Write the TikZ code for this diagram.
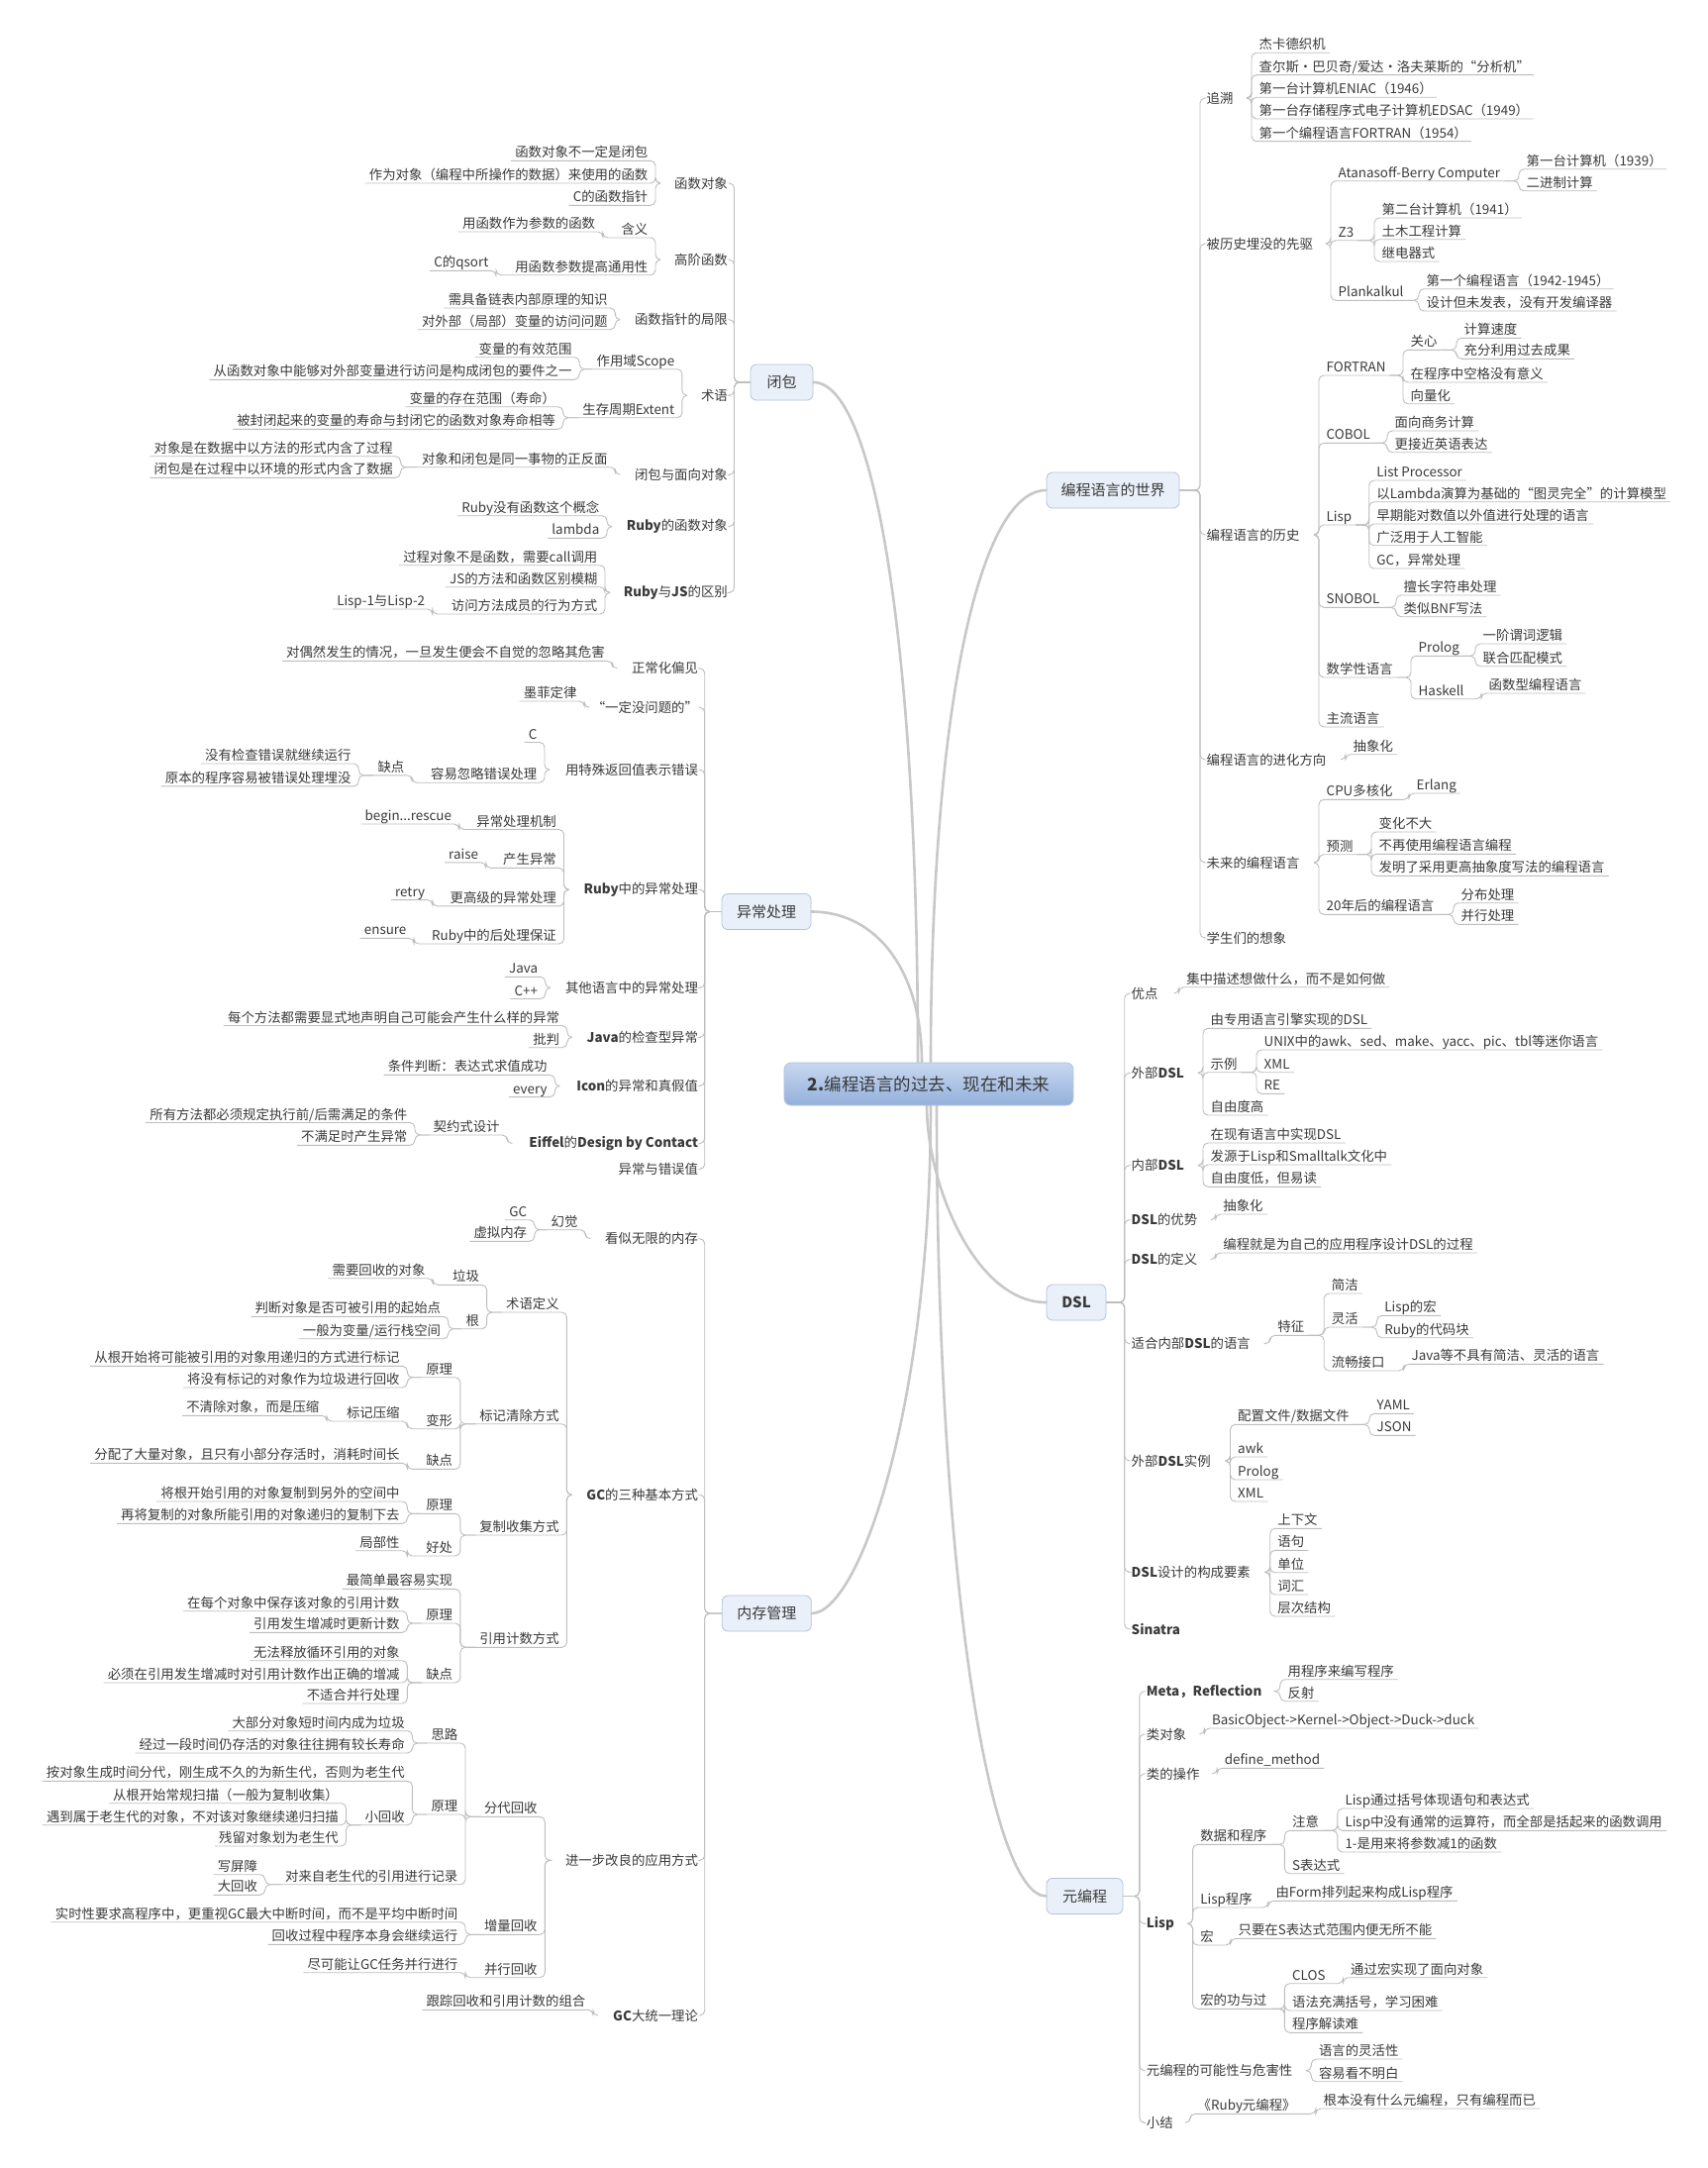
\documentclass[tikz,border=0pt]{standalone}
\usepackage{fontspec}
\setmainfont{Noto Sans CJK SC}
\usepackage{tikz}
\usetikzlibrary{calc}
\definecolor{ink}    {HTML}{3A3A3A}
\definecolor{lineg}  {HTML}{BEBEBE}
\definecolor{trunkg} {HTML}{C8C8C8}
\definecolor{boxfill}{HTML}{EAF0F9}
\definecolor{boxline}{HTML}{B4C3DA}
\definecolor{hubtop} {HTML}{C8D7EF}
\definecolor{hubbot} {HTML}{93B0DB}
\newcommand{\mapfont}{\fontsize{13.4}{15}\selectfont}
\tikzset{
  br/.style      ={draw=lineg, line width=0.9pt, rounded corners=5pt},
  trunk/.style   ={draw=trunkg, line width=2.6pt, line cap=round},
  rkid/.style    ={anchor=base west, xshift=7.5pt, yshift=3.5pt, inner sep=0pt,
                   font=\mapfont, text=ink},
  lkid/.style    ={anchor=base east, xshift=-7.5pt, yshift=3.5pt, inner sep=0pt,
                   font=\mapfont, text=ink},
  rtop/.style    ={anchor=west, inner sep=0pt, font=\mapfont, text=ink},
  ltop/.style    ={anchor=east, inner sep=0pt, font=\mapfont, text=ink},
  mainbox/.style ={draw=boxline, fill=boxfill, line width=0.8pt, rounded corners=6pt,
                   minimum height=36pt, inner sep=0pt, text=ink,
                   font=\fontsize{15}{17}\selectfont},
  hub/.style     ={draw=boxline, top color=hubtop, bottom color=hubbot, line width=0.8pt,
                   rounded corners=7pt, minimum width=292pt, minimum height=43pt,
                   text=ink, font=\fontsize{17.5}{20}\selectfont},
}
% child with underline, bracket x and underline y
\newcommand{\rkid}[4]{%
  \node[rkid] (#1) at (#2,#3) {#4};
  \coordinate (#1-s) at (#2,#3);
  \coordinate (#1-e) at ([shift={(4,3.5)}]#1.base east);}
\newcommand{\lkid}[4]{%
  \node[lkid] (#1) at (#2,#3) {#4};
  \coordinate (#1-s) at (#2,#3);
  \coordinate (#1-e) at ([shift={(-4,3.5)}]#1.base west);}
\newcommand{\kidlinks}[2]{%
  \foreach \c in {#2}{\draw[br] (#1-e) -- (\c-s |- #1-e) -- (\c-s) -- (\c-e);}}

\begin{document}
\begin{tikzpicture}[x=1pt,y=-1pt]
  \useasboundingbox (0,0) rectangle (1724,2189);
  \fill[white] (0,0) rectangle (1724,2189);

  % main boxes
  \node[mainbox, minimum width=63pt]  (clo)   at (789.5,386)   {闭包};
  \node[mainbox, minimum width=90pt]  (exc)   at (774,920.5)   {异常处理};
  \node[mainbox, minimum width=90pt]  (mem)   at (774.3,1629)  {内存管理};
  \node[mainbox, minimum width=134pt] (world) at (1124,495)    {编程语言的世界};
  \node[mainbox, minimum width=60pt]  (dsl)   at (1087,1315)   {\textbf{DSL}};
  \node[mainbox, minimum width=77pt]  (meta)  at (1095.5,1914.5) {元编程};

  \draw[trunk] (927,1073) .. controls (927,661) and (885,386) .. (clo.east);
  \draw[trunk] (931,1073) .. controls (931,981) and (886,920.5) .. (exc.east);
  \draw[trunk] (940,1073) .. controls (940,726) and (987,495) .. (world.west);
  \draw[trunk] (936,1116) .. controls (936,1196) and (985,1315) .. (dsl.west);
  \draw[trunk] (940,1116) .. controls (940,1424) and (867,1629) .. (mem.east);
  \draw[trunk] (946,1116) .. controls (946,1595) and (1000,1914.5) .. (meta.west);
  \node[hub] (hub) at (938,1094.5) {\textbf{2.}编程语言的过去、现在和未来};

  % ---------------- 编程语言的世界
  \foreach \n/\y/\t in {zs/99/追溯, xq/246/被历史埋没的先驱, ls/540/编程语言的历史,
      jh/767/编程语言的进化方向, wl/871/未来的编程语言, xx/947/学生们的想象}{
    \node[rtop] (\n) at (1218.5,\y) {\t};
    \draw[br] (world.east) -| (1212,\y) -- ++(4,0);
  }
  \coordinate (zs-e) at (1259,99);
  \rkid{zs1}{1264}{53.3}{杰卡德织机}
  \rkid{zs2}{1264}{75.7}{查尔斯·巴贝奇/爱达·洛夫莱斯的“分析机”}
  \rkid{zs3}{1264}{98.3}{第一台计算机ENIAC（1946）}
  \rkid{zs4}{1264}{120}{第一台存储程序式电子计算机EDSAC（1949）}
  \rkid{zs5}{1264}{142.7}{第一个编程语言FORTRAN（1954）}
  \kidlinks{zs}{zs1,zs2,zs3,zs4,zs5}

  \coordinate (xq-e) at (1339,246);
  \rkid{abc}{1344}{182.7}{Atanasoff-Berry Computer}
  \rkid{zthree}{1344}{242.7}{Z3}
  \rkid{plk}{1344}{303.3}{Plankalkul}
  \kidlinks{xq}{abc,zthree,plk}
  \rkid{abc1}{1534}{170.7}{第一台计算机（1939）}
  \rkid{abc2}{1534}{192.7}{二进制计算}
  \kidlinks{abc}{abc1,abc2}
  \rkid{z31}{1388}{220}{第二台计算机（1941）}
  \rkid{z32}{1388}{241.7}{土木工程计算}
  \rkid{z33}{1388}{264}{继电器式}
  \kidlinks{zthree}{z31,z32,z33}
  \rkid{plk1}{1433}{291.7}{第一个编程语言（1942-1945）}
  \rkid{plk2}{1433}{314}{设计但未发表，没有开发编译器}
  \kidlinks{plk}{plk1,plk2}

  \coordinate (ls-e) at (1327,540);
  \rkid{fortran}{1332}{379}{FORTRAN}
  \rkid{cobol}{1332}{447.3}{COBOL}
  \rkid{lisp}{1332}{530}{Lisp}
  \rkid{snobol}{1332}{613.3}{SNOBOL}
  \rkid{sxx}{1332}{684}{数学性语言}
  \rkid{zlyy}{1332}{734}{主流语言}
  \kidlinks{ls}{fortran,cobol,lisp,snobol,sxx,zlyy}
  \rkid{gx}{1417}{353.3}{关心}
  \rkid{kg}{1417}{386}{在程序中空格没有意义}
  \rkid{xlh}{1417}{407.7}{向量化}
  \kidlinks{fortran}{gx,kg,xlh}
  \rkid{gx1}{1471}{341.3}{计算速度}
  \rkid{gx2}{1471}{362.3}{充分利用过去成果}
  \kidlinks{gx}{gx1,gx2}
  \rkid{cb1}{1401}{435}{面向商务计算}
  \rkid{cb2}{1401}{456.7}{更接近英语表达}
  \kidlinks{cobol}{cb1,cb2}
  \rkid{lp1}{1382.7}{485}{List Processor}
  \rkid{lp2}{1382.7}{506.7}{以Lambda演算为基础的“图灵完全”的计算模型}
  \rkid{lp3}{1382.7}{529}{早期能对数值以外值进行处理的语言}
  \rkid{lp4}{1382.7}{550.7}{广泛用于人工智能}
  \rkid{lp5}{1382.7}{574}{GC，异常处理}
  \kidlinks{lisp}{lp1,lp2,lp3,lp4,lp5}
  \rkid{sn1}{1410}{601}{擅长字符串处理}
  \rkid{sn2}{1410}{622.7}{类似BNF写法}
  \kidlinks{snobol}{sn1,sn2}
  \rkid{prolog}{1425}{662.3}{Prolog}
  \rkid{haskell}{1425}{705.7}{Haskell}
  \kidlinks{sxx}{prolog,haskell}
  \rkid{pl1}{1490}{650}{一阶谓词逻辑}
  \rkid{pl2}{1490}{672.7}{联合匹配模式}
  \kidlinks{prolog}{pl1,pl2}
  \rkid{hs1}{1496}{700}{函数型编程语言}
  \kidlinks{haskell}{hs1}

  \coordinate (jh-e) at (1354,767);
  \rkid{jh1}{1359}{761.7}{抽象化}
  \kidlinks{jh}{jh1}

  \coordinate (wl-e) at (1327,871);
  \rkid{cpu}{1332}{807.3}{CPU多核化}
  \rkid{yc}{1332}{862.7}{预测}
  \rkid{ewn}{1332}{923.3}{20年后的编程语言}
  \kidlinks{wl}{cpu,yc,ewn}
  \rkid{erl}{1423}{801}{Erlang}
  \kidlinks{cpu}{erl}
  \rkid{yc1}{1385}{840}{变化不大}
  \rkid{yc2}{1385}{862.3}{不再使用编程语言编程}
  \rkid{yc3}{1385}{884.3}{发明了采用更高抽象度写法的编程语言}
  \kidlinks{yc}{yc1,yc2,yc3}
  \rkid{ew1}{1468}{911.7}{分布处理}
  \rkid{ew2}{1468}{933.3}{并行处理}
  \kidlinks{ewn}{ew1,ew2}

  % ---------------- DSL
  \foreach \n/\y/\t in {yd/1003/优点, wb/1083.3/外部\textbf{DSL}, nb/1176.7/内部\textbf{DSL},
      dslys/1231.7/\textbf{DSL}的优势, dsldy/1271.7/\textbf{DSL}的定义,
      dslsh/1356.7/适合内部\textbf{DSL}的语言, dslsl/1475/外部\textbf{DSL}实例,
      dslgc/1587.3/\textbf{DSL}设计的构成要素, sinatra/1645/\textbf{Sinatra}}{
    \node[rtop] (\n) at (1142.5,\y) {\t};
    \draw[br] (dsl.east) -| (1135.7,\y) -- ++(4,0);
  }
  \coordinate (yd-e) at (1185.6,1003);
  \rkid{yd1}{1190.6}{996.7}{集中描述想做什么，而不是如何做}
  \kidlinks{yd}{yd1}
  \coordinate (wb-e) at (1210,1083.3);
  \rkid{wb1}{1215}{1038.3}{由专用语言引擎实现的DSL}
  \rkid{wbsl}{1215}{1082.7}{示例}
  \rkid{wb3}{1215}{1126}{自由度高}
  \kidlinks{wb}{wb1,wbsl,wb3}
  \rkid{ex1}{1269}{1060}{UNIX中的awk、sed、make、yacc、pic、tbl等迷你语言}
  \rkid{ex2}{1269}{1082.7}{XML}
  \rkid{ex3}{1269}{1104.3}{RE}
  \kidlinks{wbsl}{ex1,ex2,ex3}
  \coordinate (nb-e) at (1210,1176.7);
  \rkid{nb1}{1215}{1154}{在现有语言中实现DSL}
  \rkid{nb2}{1215}{1176}{发源于Lisp和Smalltalk文化中}
  \rkid{nb3}{1215}{1198.3}{自由度低，但易读}
  \kidlinks{nb}{nb1,nb2,nb3}
  \coordinate (dslys-e) at (1222.7,1231.7);
  \rkid{ys1}{1227.7}{1226}{抽象化}
  \kidlinks{dslys}{ys1}
  \coordinate (dsldy-e) at (1222.7,1271.7);
  \rkid{dy1}{1227.7}{1265}{编程就是为自己的应用程序设计DSL的过程}
  \kidlinks{dsldy}{dy1}
  \coordinate (dslsh-e) at (1278,1356.7);
  \rkid{tz}{1282.7}{1348.3}{特征}
  \kidlinks{dslsh}{tz}
  \rkid{jj}{1337.2}{1306}{简洁}
  \rkid{lh}{1337.2}{1340}{灵活}
  \rkid{lc}{1337.2}{1384}{流畅接口}
  \kidlinks{tz}{jj,lh,lc}
  \rkid{lh1}{1390.6}{1328.3}{Lisp的宏}
  \rkid{lh2}{1390.6}{1350.7}{Ruby的代码块}
  \kidlinks{lh}{lh1,lh2}
  \rkid{lc1}{1417.9}{1377.3}{Java等不具有简洁、灵活的语言}
  \kidlinks{lc}{lc1}
  \coordinate (dslsl-e) at (1237.5,1475);
  \rkid{pz}{1242.5}{1438.3}{配置文件/数据文件}
  \rkid{awk}{1242.5}{1471}{awk}
  \rkid{dprolog}{1242.5}{1494}{Prolog}
  \rkid{dxml}{1242.5}{1516}{XML}
  \kidlinks{dslsl}{pz,awk,dprolog,dxml}
  \rkid{yaml}{1383}{1427.3}{YAML}
  \rkid{json}{1383}{1449.3}{JSON}
  \kidlinks{pz}{yaml,json}
  \coordinate (dslgc-e) at (1277.7,1587.3);
  \rkid{gc1}{1282.7}{1543.3}{上下文}
  \rkid{gc2}{1282.7}{1565.3}{语句}
  \rkid{gc3}{1282.7}{1587.7}{单位}
  \rkid{gc4}{1282.7}{1610}{词汇}
  \rkid{gc5}{1282.7}{1632}{层次结构}
  \kidlinks{dslgc}{gc1,gc2,gc3,gc4,gc5}

  % ---------------- 元编程
  \foreach \n/\y/\t in {mr/1707.7/\textbf{Meta，Reflection}, ldx/1751/类对象, lcz/1791/类的操作,
      mlisp/1942.3/\textbf{Lisp}, knx/2090.7/元编程的可能性与危害性, xj/2143.3/小结}{
    \node[rtop] (\n) at (1157.7,\y) {\t};
    \draw[br] (meta.east) -| (1150.8,\y) -- ++(4,0);
  }
  \coordinate (mr-e) at (1288,1707.7);
  \rkid{mr1}{1292.9}{1695.7}{用程序来编写程序}
  \rkid{mr2}{1292.9}{1717.7}{反射}
  \kidlinks{mr}{mr1,mr2}
  \coordinate (ldx-e) at (1211.4,1751);
  \rkid{ldx1}{1216.4}{1745}{BasicObject->Kernel->Object->Duck->duck}
  \kidlinks{ldx}{ldx1}
  \coordinate (lcz-e) at (1224.2,1791);
  \rkid{lcz1}{1229.2}{1785.3}{define\_method}
  \kidlinks{lcz}{lcz1}
  \coordinate (mlisp-e) at (1199.6,1942.3);
  \rkid{sjcx}{1204.6}{1862.3}{数据和程序}
  \rkid{lispcx}{1204.6}{1926}{Lisp程序}
  \rkid{hong}{1204.6}{1964}{宏}
  \rkid{hgg}{1204.6}{2028.3}{宏的功与过}
  \kidlinks{mlisp}{sjcx,lispcx,hong,hgg}
  \rkid{zy}{1297.4}{1848.3}{注意}
  \rkid{sbds}{1297.4}{1891.7}{S表达式}
  \kidlinks{sjcx}{zy,sbds}
  \rkid{zy1}{1350.8}{1826}{Lisp通过括号体现语句和表达式}
  \rkid{zy2}{1350.8}{1848.3}{Lisp中没有通常的运算符，而全部是括起来的函数调用}
  \rkid{zy3}{1350.8}{1870}{1-是用来将参数减1的函数}
  \kidlinks{zy}{zy1,zy2,zy3}
  \rkid{lpx1}{1280.8}{1919.3}{由Form排列起来构成Lisp程序}
  \kidlinks{lispcx}{lpx1}
  \rkid{hong1}{1242.9}{1957.3}{只要在S表达式范围内便无所不能}
  \kidlinks{hong}{hong1}
  \rkid{clos}{1297.4}{2002.7}{CLOS}
  \rkid{hgg2}{1297.4}{2030}{语法充满括号，学习困难}
  \rkid{hgg3}{1297.4}{2052.3}{程序解读难}
  \kidlinks{hgg}{clos,hgg2,hgg3}
  \rkid{clos1}{1356.5}{1996.7}{通过宏实现了面向对象}
  \kidlinks{clos}{clos1}
  \coordinate (knx-e) at (1319.3,2090.7);
  \rkid{knx1}{1324.3}{2079}{语言的灵活性}
  \rkid{knx2}{1324.3}{2101.7}{容易看不明白}
  \kidlinks{knx}{knx1,knx2}
  \coordinate (xj-e) at (1197,2143.3);
  \rkid{rbm}{1202}{2134.3}{《Ruby元编程》}
  \kidlinks{xj}{rbm}
  \rkid{rbm1}{1328.9}{2129}{根本没有什么元编程，只有编程而已}
  \kidlinks{rbm}{rbm1}

  % ---------------- 闭包
  \foreach \n/\y/\t in {hsdx/185/函数对象, gjhs/262.3/高阶函数, zzjx/322.7/函数指针的局限,
      sy/399.3/术语, mxdx/479.3/闭包与面向对象, rbhs/531.7/\textbf{Ruby}的函数对象,
      rbjs/598.3/\textbf{Ruby}与\textbf{JS}的区别}{
    \node[ltop] (\n) at (735,\y) {\t};
    \draw[br] (clo.west) -| (741.5,\y) -- ++(-4,0);
  }
  \coordinate (hsdx-e) at (667,185);
  \lkid{hd1}{662}{162.3}{函数对象不一定是闭包}
  \lkid{hd2}{662}{185}{作为对象（编程中所操作的数据）来使用的函数}
  \lkid{hd3}{662}{207.3}{C的函数指针}
  \kidlinks{hsdx}{hd1,hd2,hd3}
  \coordinate (gjhs-e) at (667,262.3);
  \lkid{hy}{662}{240}{含义}
  \lkid{tg}{662}{277.7}{用函数参数提高通用性}
  \kidlinks{gjhs}{hy,tg}
  \lkid{hy1}{608.8}{234}{用函数作为参数的函数}
  \kidlinks{hy}{hy1}
  \lkid{qsort}{501}{273.3}{C的qsort}
  \kidlinks{tg}{qsort}
  \coordinate (zzjx-e) at (626.3,322.7);
  \lkid{zz1}{621.3}{311}{需具备链表内部原理的知识}
  \lkid{zz2}{621.3}{332.7}{对外部（局部）变量的访问问题}
  \kidlinks{zzjx}{zz1,zz2}
  \coordinate (sy-e) at (693.9,399.3);
  \lkid{scope}{688.9}{372.7}{作用域Scope}
  \lkid{extent}{688.9}{421.7}{生存周期Extent}
  \kidlinks{sy}{scope,extent}
  \lkid{sc1}{585.2}{360.7}{变量的有效范围}
  \lkid{sc2}{585.2}{383.3}{从函数对象中能够对外部变量进行访问是构成闭包的要件之一}
  \kidlinks{scope}{sc1,sc2}
  \lkid{et1}{568.6}{410.7}{变量的存在范围（寿命）}
  \lkid{et2}{568.6}{433.3}{被封闭起来的变量的寿命与封闭它的函数对象寿命相等}
  \kidlinks{extent}{et1,et2}
  \coordinate (mxdx-e) at (626.3,479.3);
  \lkid{zfm}{621.3}{471.7}{对象和闭包是同一事物的正反面}
  \kidlinks{mxdx}{zfm}
  \lkid{zf1}{404.5}{460.7}{对象是在数据中以方法的形式内含了过程}
  \lkid{zf2}{404.5}{482.3}{闭包是在过程中以环境的形式内含了数据}
  \kidlinks{zfm}{zf1,zf2}
  \coordinate (rbhs-e) at (618,531.7);
  \lkid{rh1}{613}{520.7}{Ruby没有函数这个概念}
  \lkid{rh2}{613}{543.3}{lambda}
  \kidlinks{rbhs}{rh1,rh2}
  \coordinate (rbjs-e) at (616,598.3);
  \lkid{rj1}{611}{570.7}{过程对象不是函数，需要call调用}
  \lkid{rj2}{611}{592.7}{JS的方法和函数区别模糊}
  \lkid{rj3}{611}{620}{访问方法成员的行为方式}
  \kidlinks{rbjs}{rj1,rj2,rj3}
  \lkid{rj31}{436.8}{615}{Lisp-1与Lisp-2}
  \kidlinks{rj3}{rj31}

  % ---------------- 异常处理
  \foreach \n/\y/\t in {chp/674.8/正常化偏见, ydm/714.3/“一定没问题的”,
      tsz/777.2/用特殊返回值表示错误, rbyc/898.2/\textbf{Ruby}中的异常处理,
      qtyy/997.4/其他语言中的异常处理, jcx/1047.3/\textbf{Java}的检查型异常,
      icon/1096.5/\textbf{Icon}的异常和真假值, eiffel/1154.6/\textbf{Eiffel}的\textbf{Design by Contact},
      ycc/1180.5/异常与错误值}{
    \node[ltop] (\n) at (705.2,\y) {\t};
    \draw[br] (exc.west) -| (711.7,\y) -- ++(-4,0);
  }
  \coordinate (chp-e) at (623.4,674.8);
  \lkid{chp1}{618.4}{667.4}{对偶然发生的情况，一旦发生便会不自觉的忽略其危害}
  \kidlinks{chp}{chp1}
  \coordinate (ydm-e) at (595.2,714.3);
  \lkid{mf}{590.2}{708}{墨菲定律}
  \kidlinks{ydm}{mf}
  \coordinate (tsz-e) at (555,777.2);
  \lkid{tszc}{550}{749.5}{C}
  \lkid{hl}{550}{790.2}{容易忽略错误处理}
  \kidlinks{tsz}{tszc,hl}
  \lkid{qd}{416}{782.8}{缺点}
  \kidlinks{hl}{qd}
  \lkid{qd1}{362.2}{771}{没有检查错误就继续运行}
  \lkid{qd2}{362.2}{793.9}{原本的程序容易被错误处理埋没}
  \kidlinks{qd}{qd1,qd2}
  \coordinate (rbyc-e) at (574.5,898.2);
  \lkid{jz}{569.5}{837.5}{异常处理机制}
  \lkid{csyc}{569.5}{876.4}{产生异常}
  \lkid{gg}{569.5}{914.9}{更高级的异常处理}
  \lkid{hcl}{569.5}{953}{Ruby中的后处理保证}
  \kidlinks{rbyc}{jz,csyc,gg,hcl}
  \lkid{brs}{463.7}{832}{begin...rescue}
  \kidlinks{jz}{brs}
  \lkid{raise}{490.7}{870.8}{raise}
  \kidlinks{csyc}{raise}
  \lkid{retry}{436.8}{908.6}{retry}
  \kidlinks{gg}{retry}
  \lkid{ensure}{418.1}{947.4}{ensure}
  \kidlinks{hcl}{ensure}
  \coordinate (qtyy-e) at (555.8,997.4);
  \lkid{java}{550.8}{986.3}{Java}
  \lkid{cpp}{550.8}{1008.5}{C++}
  \kidlinks{qtyy}{java,cpp}
  \coordinate (jcx-e) at (577.8,1047.3);
  \lkid{jc1}{572.8}{1035.5}{每个方法都需要显式地声明自己可能会产生什么样的异常}
  \lkid{jc2}{572.8}{1057.7}{批判}
  \kidlinks{jcx}{jc1,jc2}
  \coordinate (icon-e) at (565.3,1096.5);
  \lkid{ic1}{560.3}{1085.4}{条件判断：表达式求值成功}
  \lkid{ic2}{560.3}{1107.6}{every}
  \kidlinks{icon}{ic1,ic2}
  \coordinate (eiffel-e) at (517.3,1154.6);
  \lkid{qy}{512.3}{1146}{契约式设计}
  \kidlinks{eiffel}{qy}
  \lkid{qy1}{419}{1133.5}{所有方法都必须规定执行前/后需满足的条件}
  \lkid{qy2}{419}{1156.4}{不满足时产生异常}
  \kidlinks{qy}{qy1,qy2}

  % ---------------- 内存管理
  \foreach \n/\y/\t in {wx/1250.7/看似无限的内存, sz/1509.3/\textbf{GC}的三种基本方式,
      gl/1878.3/进一步改良的应用方式, dty/2035/\textbf{GC}大统一理论}{
    \node[ltop] (\n) at (705.2,\y) {\t};
    \draw[br] (mem.west) -| (711.7,\y) -- ++(-4,0);
  }
  \coordinate (wx-e) at (596.2,1250.7);
  \lkid{hj}{591.2}{1241.7}{幻觉}
  \kidlinks{wx}{hj}
  \lkid{gcn}{539.8}{1231.7}{GC}
  \lkid{xn}{539.8}{1253.3}{虚拟内存}
  \kidlinks{hj}{gcn,xn}
  \coordinate (sz-e) at (577.4,1509.3);
  \lkid{syd}{572.4}{1325}{术语定义}
  \lkid{bj}{572.4}{1437.7}{标记清除方式}
  \lkid{fz}{572.4}{1550}{复制收集方式}
  \lkid{yj}{572.4}{1663.3}{引用计数方式}
  \kidlinks{sz}{syd,bj,fz,yj}
  \lkid{lj}{491.6}{1297.3}{垃圾}
  \lkid{gen}{491.6}{1341.7}{根}
  \kidlinks{syd}{lj,gen}
  \lkid{lj1}{437.1}{1290.7}{需要回收的对象}
  \kidlinks{lj}{lj1}
  \lkid{gen1}{452.8}{1329.3}{判断对象是否可被引用的起始点}
  \lkid{gen2}{452.8}{1351.7}{一般为变量/运行栈空间}
  \kidlinks{gen}{gen1,gen2}
  \lkid{bjyl}{464.8}{1390.7}{原理}
  \lkid{bxing}{464.8}{1442.7}{变形}
  \lkid{bjqd}{464.8}{1483.3}{缺点}
  \kidlinks{bj}{bjyl,bxing,bjqd}
  \lkid{bjy1}{411.3}{1379.3}{从根开始将可能被引用的对象用递归的方式进行标记}
  \lkid{bjy2}{411.3}{1401}{将没有标记的对象作为垃圾进行回收}
  \kidlinks{bjyl}{bjy1,bjy2}
  \lkid{bjys}{411.3}{1435}{标记压缩}
  \kidlinks{bxing}{bjys}
  \lkid{bjys1}{330}{1429.3}{不清除对象，而是压缩}
  \kidlinks{bjys}{bjys1}
  \lkid{bjq1}{411.3}{1477.3}{分配了大量对象，且只有小部分存活时，消耗时间长}
  \kidlinks{bjqd}{bjq1}
  \lkid{fzyl}{464.8}{1528.3}{原理}
  \lkid{hc}{464.8}{1571}{好处}
  \kidlinks{fz}{fzyl,hc}
  \lkid{fzy1}{411.3}{1516}{将根开始引用的对象复制到另外的空间中}
  \lkid{fzy2}{411.3}{1538.3}{再将复制的对象所能引用的对象递归的复制下去}
  \kidlinks{fzyl}{fzy1,fzy2}
  \lkid{hc1}{411.3}{1565.7}{局部性}
  \kidlinks{hc}{hc1}
  \lkid{yj0}{464.8}{1604.3}{最简单最容易实现}
  \lkid{yjyl}{464.8}{1639}{原理}
  \lkid{yjqd}{464.8}{1699}{缺点}
  \kidlinks{yj}{yj0,yjyl,yjqd}
  \lkid{yjy1}{411.3}{1626.7}{在每个对象中保存该对象的引用计数}
  \lkid{yjy2}{411.3}{1648.3}{引用发生增减时更新计数}
  \kidlinks{yjyl}{yjy1,yjy2}
  \lkid{yjq1}{411.3}{1676.7}{无法释放循环引用的对象}
  \lkid{yjq2}{411.3}{1699}{必须在引用发生增减时对引用计数作出正确的增减}
  \lkid{yjq3}{411.3}{1720}{不适合并行处理}
  \kidlinks{yjqd}{yjq1,yjq2,yjq3}
  \coordinate (gl-e) at (555,1878.3);
  \lkid{fd}{550.3}{1834.3}{分代回收}
  \lkid{zlhs}{550.3}{1953.3}{增量回收}
  \lkid{bxhs}{550.3}{1996.7}{并行回收}
  \kidlinks{gl}{fd,zlhs,bxhs}
  \lkid{silu}{470}{1760}{思路}
  \lkid{fdyl}{470}{1832}{原理}
  \lkid{dlz}{470}{1902.7}{对来自老生代的引用进行记录}
  \kidlinks{fd}{silu,fdyl,dlz}
  \lkid{sl1}{416.4}{1747.7}{大部分对象短时间内成为垃圾}
  \lkid{sl2}{416.4}{1770}{经过一段时间仍存活的对象往往拥有较长寿命}
  \kidlinks{silu}{sl1,sl2}
  \lkid{fdy1}{416.4}{1798.3}{按对象生成时间分代，刚生成不久的为新生代，否则为老生代}
  \lkid{xhs}{416.4}{1842.7}{小回收}
  \kidlinks{fdyl}{fdy1,xhs}
  \lkid{xh1}{349.5}{1820.7}{从根开始常规扫描（一般为复制收集）}
  \lkid{xh2}{349.5}{1842.7}{遇到属于老生代的对象，不对该对象继续递归扫描}
  \lkid{xh3}{349.5}{1864}{残留对象划为老生代}
  \kidlinks{xhs}{xh1,xh2,xh3}
  \lkid{xpz}{267.7}{1892.7}{写屏障}
  \lkid{dhs}{267.7}{1913.3}{大回收}
  \kidlinks{dlz}{xpz,dhs}
  \lkid{zl1}{470}{1940.7}{实时性要求高程序中，更重视GC最大中断时间，而不是平均中断时间}
  \lkid{zl2}{470}{1963.3}{回收过程中程序本身会继续运行}
  \kidlinks{zlhs}{zl1,zl2}
  \lkid{bx1}{470}{1991.7}{尽可能让GC任务并行进行}
  \kidlinks{bxhs}{bx1}
  \coordinate (dty-e) at (604,2035);
  \lkid{dty1}{599}{2029.3}{跟踪回收和引用计数的组合}
  \kidlinks{dty}{dty1}
\end{tikzpicture}
\end{document}
